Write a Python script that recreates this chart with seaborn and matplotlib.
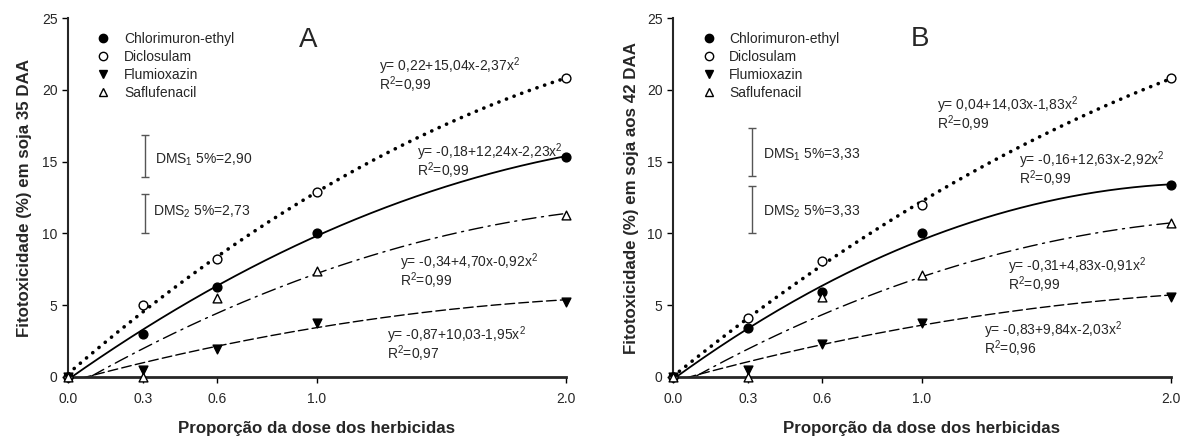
import numpy as np
import pandas as pd
import matplotlib
matplotlib.use("Agg")
import matplotlib.pyplot as plt
import seaborn as sns
from matplotlib.lines import Line2D

# ---------------------------------------------------------------- data
herbicides = ["Chlorimuron-ethyl", "Diclosulam", "Flumioxazin", "Saflufenacil"]
doses = [0.0, 0.3, 0.6, 1.0, 2.0]
dose_ticks = ["0.0", "0.3", "0.6", "1.0", "2.0"]

# observed phytotoxicity (%) at 35 DAA
chlorimuron_35 = [0.0, 3.0, 6.3, 10.0, 15.3]
diclosulam_35 = [0.0, 5.0, 8.2, 12.9, 20.8]
flumioxazin_35 = [0.0, 0.5, 1.95, 3.75, 5.25]
saflufenacil_35 = [0.0, 0.0, 5.5, 7.4, 11.3]

# observed phytotoxicity (%) at 42 DAA
chlorimuron_42 = [0.0, 3.4, 5.9, 10.0, 13.4]
diclosulam_42 = [0.0, 4.1, 8.1, 12.0, 20.8]
flumioxazin_42 = [0.0, 0.5, 2.3, 3.75, 5.6]
saflufenacil_42 = [0.0, 0.0, 5.6, 7.1, 10.7]

# quadratic fits y = b0 + b1*x + b2*x^2
coef_chlorimuron_35 = [-0.18, 12.24, -2.23]
coef_diclosulam_35 = [0.22, 15.04, -2.37]
coef_flumioxazin_35 = [-0.34, 4.70, -0.92]
coef_saflufenacil_35 = [-0.87, 10.03, -1.95]

coef_chlorimuron_42 = [-0.16, 12.63, -2.92]
coef_diclosulam_42 = [0.04, 14.03, -1.83]
coef_flumioxazin_42 = [-0.31, 4.83, -0.91]
coef_saflufenacil_42 = [-0.83, 9.84, -2.03]

# equation labels
eq_labels_35 = ["y= 0,22+15,04x-2,37x$^2$", "y= -0,18+12,24x-2,23x$^2$",
                "y= -0,34+4,70x-0,92x$^2$", "y= -0,87+10,03-1,95x$^2$"]
r2_labels_35 = ["R$^2$=0,99", "R$^2$=0,99", "R$^2$=0,99", "R$^2$=0,97"]
eq_labels_42 = ["y= 0,04+14,03x-1,83x$^2$", "y= -0,16+12,63x-2,92x$^2$",
                "y= -0,31+4,83x-0,91x$^2$", "y= -0,83+9,84x-2,03x$^2$"]
r2_labels_42 = ["R$^2$=0,99", "R$^2$=0,99", "R$^2$=0,99", "R$^2$=0,96"]

# least significant differences
dms_35 = [2.90, 2.73]
dms_42 = [3.33, 3.33]

# ---------------------------------------------------------------- style
sns.set_style("ticks")
plt.rcParams["font.family"] = ["Liberation Sans", "DejaVu Sans"]
plt.rcParams["mathtext.fontset"] = "custom"
plt.rcParams["mathtext.rm"] = "Liberation Sans"
plt.rcParams["mathtext.it"] = "Liberation Sans:italic"
plt.rcParams["mathtext.bf"] = "Liberation Sans:bold"
plt.rcParams["mathtext.default"] = "rm"

styles = {
    "Chlorimuron-ethyl": dict(marker="o", fill="black", ls="-", lw=1.3),
    "Diclosulam": dict(marker="o", fill="white", ls=(0, (0.05, 2.2)), lw=2.6),
    "Flumioxazin": dict(marker="v", fill="black", ls=(0, (7, 3)), lw=1.0),
    "Saflufenacil": dict(marker="^", fill="white", ls=(0, (10, 4, 1.5, 4)), lw=1.0),
}

fig = plt.figure(figsize=(11.82, 4.37), dpi=100)
ax_a = fig.add_axes([0.0575, 0.1373, 0.4213, 0.8215])
ax_b = fig.add_axes([0.5694, 0.1373, 0.4213, 0.8215])

panels = [
    dict(ax=ax_a, letter="A", ylabel="Fitotoxicidade (%) em soja 35 DAA",
         obs=[chlorimuron_35, diclosulam_35, flumioxazin_35, saflufenacil_35],
         coef=[coef_chlorimuron_35, coef_diclosulam_35, coef_flumioxazin_35, coef_saflufenacil_35],
         eqs=eq_labels_35, r2=r2_labels_35, dms=dms_35,
         eq_pos=[(1.249, 21.66), (1.40, 15.67), (1.333, 8.01), (1.281, 2.92)],
         dms_x=0.31, dms_low=[13.93, 10.0], dms_text=[(0.35, 15.1), (0.34, 11.5)],
         letter_pos=(0.965, 23.45), ylab_x=-0.072),
    dict(ax=ax_b, letter="B", ylabel="Fitotoxicidade (%) em soja aos 42 DAA",
         obs=[chlorimuron_42, diclosulam_42, flumioxazin_42, saflufenacil_42],
         coef=[coef_chlorimuron_42, coef_diclosulam_42, coef_flumioxazin_42, coef_saflufenacil_42],
         eqs=eq_labels_42, r2=r2_labels_42, dms=dms_42,
         eq_pos=[(1.060, 18.94), (1.39, 15.11), (1.345, 7.73), (1.249, 3.27)],
         dms_x=0.317, dms_low=[14.0, 10.0], dms_text=[(0.36, 15.5), (0.36, 11.5)],
         letter_pos=(0.990, 23.55), ylab_x=-0.068),
]

xs = np.linspace(0, 2.0, 200)
for p in panels:
    ax = p["ax"]
    for name, obs, coef in zip(herbicides, p["obs"], p["coef"]):
        st = styles[name]
        yfit = coef[0] + coef[1] * xs + coef[2] * xs ** 2
        sns.lineplot(x=xs, y=yfit, ax=ax, color="black", linewidth=st["lw"],
                     linestyle=st["ls"], dash_capstyle="round", zorder=2)
        sns.scatterplot(x=doses, y=obs, ax=ax, marker=st["marker"], s=40,
                        color="black", facecolor=st["fill"], edgecolor="black",
                        linewidth=1.0, clip_on=False, zorder=4)

    # equation annotations
    for (ex, ey), eq, r2 in zip(p["eq_pos"], p["eqs"], p["r2"]):
        ax.text(ex, ey, eq, fontsize=10, va="center", ha="left")
        ax.text(ex, ey - 1.32, r2, fontsize=10, va="center", ha="left")

    # least significant difference bars
    for i, (d, lo, (tx, ty)) in enumerate(zip(p["dms"], p["dms_low"], p["dms_text"])):
        ax.errorbar([p["dms_x"]], [lo + d / 2], yerr=[d / 2], color="#555555",
                    elinewidth=1.0, capsize=3, capthick=1.0, fmt="none")
        ax.text(tx, ty, f"DMS$_{i + 1}$ 5%={d:.2f}".replace(".", ","),
                fontsize=10, va="center", ha="left")

    ax.text(*p["letter_pos"], p["letter"], fontsize=20, ha="center", va="center")

    handles = [Line2D([], [], ls="none", marker=styles[n]["marker"], color="black",
                      markerfacecolor=styles[n]["fill"], markersize=6)
               for n in herbicides]
    ax.legend(handles, herbicides, loc="upper left", bbox_to_anchor=(0.035, 0.988),
              frameon=False, fontsize=10, handlelength=1.2, handletextpad=0.9,
              labelspacing=0.29, borderpad=0.2)

    ax.set_xlim(0, 2.0)
    ax.set_ylim(0, 25)
    ax.set_xticks(doses)
    ax.set_xticklabels(dose_ticks)
    ax.set_yticks([0, 5, 10, 15, 20, 25])
    ax.tick_params(axis="both", labelsize=10, length=4, width=1.0, color="black")
    ax.tick_params(axis="x", pad=7)
    ax.set_ylabel(p["ylabel"], fontsize=12.2, fontweight="bold")
    ax.set_xlabel("Proporção da dose dos herbicidas", fontsize=12.2, fontweight="bold")
    ax.yaxis.set_label_coords(p["ylab_x"], 0.5)
    ax.xaxis.set_label_coords(0.5, -0.123)
    sns.despine(ax=ax)
    ax.spines["left"].set_linewidth(1.5)
    ax.spines["bottom"].set_linewidth(2.0)

fig.savefig("out.png", dpi=100)
